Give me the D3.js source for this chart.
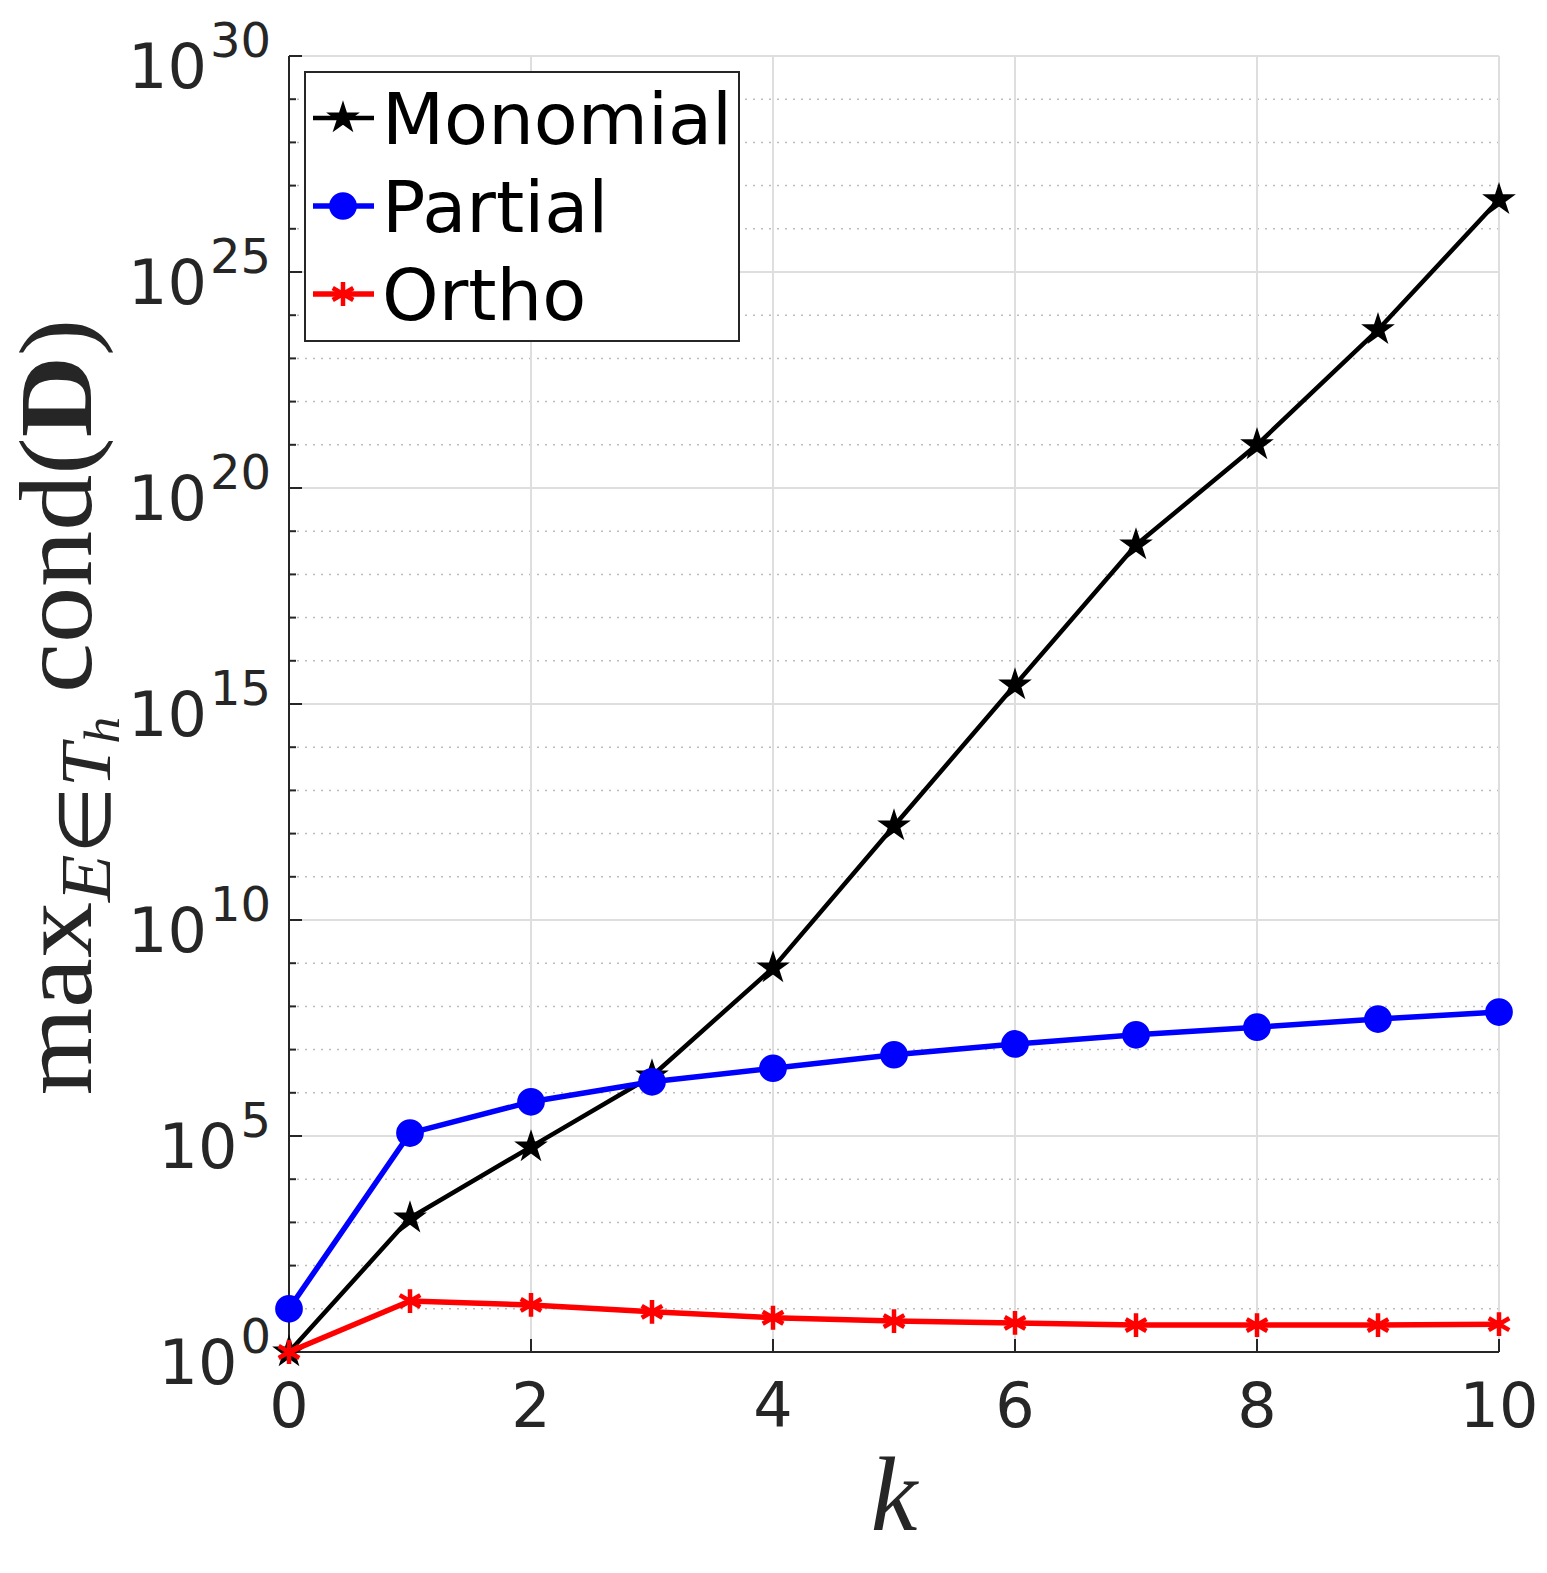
<!DOCTYPE html>
<html lang="en">
<head>
<meta charset="UTF-8">
<title>cond(D) vs k</title>
<script src="https://d3js.org/d3.v7.min.js"></script>
<style>
    body { margin: 0; background: #fff; }
    svg { display: block; }
</style>
</head>
<body>
<svg id="chart" width="1547" height="1573"></svg>
<script>

// data
const ks = [0, 1, 2, 3, 4, 5, 6, 7, 8, 9, 10];
const monomial = [1, 1.26e3, 5.6e4, 2.45e6, 7.8e8, 1.5e12, 2.75e15, 4.8e18, 1.0e21, 4.6e23, 4.7e26];
const partial = [10, 1.17e5, 6.2e5, 1.8e6, 3.7e6, 7.6e6, 1.35e7, 2.2e7, 3.3e7, 5.1e7, 7.4e7];
const ortho = [1, 15.1, 12.3, 8.5, 6.2, 5.2, 4.7, 4.2, 4.2, 4.2, 4.4];

const xTicks = [0, 2, 4, 6, 8, 10];
const yMajorExp = [0, 5, 10, 15, 20, 25, 30];
const yMinorExp = d3.range(0, 31);
const seriesNames = ['Monomial', 'Partial', 'Ortho'];

const svg = d3.select('#chart');
const axisColor = '#262626';

const x = d3.scaleLinear().domain([0, 10]).range([289, 1499]);
const y = d3.scaleLog().domain([1, 1e30]).range([1352, 56]);

// grid
const grid = svg.append('g');
grid.selectAll('line.minor')
    .data(yMinorExp.filter(e => e % 5 !== 0))
    .enter().append('line')
    .attr('x1', x(0)).attr('x2', x(10))
    .attr('y1', e => y(Math.pow(10, e))).attr('y2', e => y(Math.pow(10, e)))
    .style('stroke', '#bcbcbc').style('stroke-width', 1.5)
    .style('stroke-dasharray', '2,6');
grid.selectAll('line.ymaj')
    .data(yMajorExp.slice(1))
    .enter().append('line')
    .attr('x1', x(0)).attr('x2', x(10))
    .attr('y1', e => y(Math.pow(10, e))).attr('y2', e => y(Math.pow(10, e)))
    .style('stroke', '#dedede').style('stroke-width', 2);
grid.selectAll('line.xmaj')
    .data(xTicks.slice(1))
    .enter().append('line')
    .attr('x1', d => x(d)).attr('x2', d => x(d))
    .attr('y1', y(1)).attr('y2', y(1e30))
    .style('stroke', '#dedede').style('stroke-width', 2);

// axes lines + ticks
const ax = svg.append('g').style('stroke', axisColor).style('stroke-width', 2);
ax.append('line').attr('x1', x(0)).attr('x2', x(0)).attr('y1', y(1) + 1).attr('y2', y(1e30));
ax.append('line').attr('x1', x(0) - 1).attr('x2', x(10)).attr('y1', y(1)).attr('y2', y(1));
ax.selectAll('line.xt').data(xTicks).enter().append('line')
    .attr('x1', d => x(d)).attr('x2', d => x(d))
    .attr('y1', y(1)).attr('y2', y(1) - 13);
ax.selectAll('line.yt').data(yMinorExp).enter().append('line')
    .attr('x1', x(0)).attr('x2', e => x(0) + (e % 5 === 0 ? 13 : 7))
    .attr('y1', e => y(Math.pow(10, e))).attr('y2', e => y(Math.pow(10, e)));

// tick labels
svg.selectAll('text.xl').data(xTicks).enter().append('text')
    .attr('x', d => x(d)).attr('y', y(1) + 75)
    .attr('text-anchor', 'middle')
    .style('font-family', 'DejaVu Sans').style('font-size', '62px')
    .style('fill', axisColor)
    .text(d => d);

const yl = svg.selectAll('text.yl').data(yMajorExp).enter().append('text')
    .attr('x', 271).attr('y', e => y(Math.pow(10, e)) + 32)
    .attr('text-anchor', 'end')
    .style('font-family', 'DejaVu Sans').style('fill', axisColor);
yl.append('tspan').style('font-size', '62px').text('10');
yl.append('tspan').attr('dy', -31).attr('dx', 3).style('font-size', '48px').text(e => e);

// series
const line = d3.line().x((d, i) => x(ks[i])).y(d => y(d));
const series = [
    { name: seriesNames[0], values: monomial, color: '#000000', width: 4.5,
      sym: d3.symbol().type(d3.symbolStar).size(210), fill: true, mw: 2.5 },
    { name: seriesNames[1], values: partial, color: '#0000ff', width: 5.5,
      sym: d3.symbol().type(d3.symbolCircle).size(520), fill: true, mw: 2 },
    { name: seriesNames[2], values: ortho, color: '#ff0000', width: 5.5,
      sym: d3.symbol().type(d3.symbolAsterisk).size(400), fill: false, mw: 4.5 }
];

series.forEach(s => {
    const g = svg.append('g');
    g.append('path')
        .attr('d', line(s.values))
        .style('fill', 'none')
        .style('stroke', s.color)
        .style('stroke-width', s.width)
        .style('stroke-linejoin', 'round');
    g.selectAll('path.m').data(s.values).enter().append('path')
        .attr('transform', (d, i) => `translate(${x(ks[i])},${y(d)})`)
        .attr('d', s.sym())
        .style('fill', s.fill ? s.color : 'none')
        .style('stroke', s.color)
        .style('stroke-width', s.mw);
});

// legend
const lg = svg.append('g');
lg.append('rect')
    .attr('x', 305).attr('y', 72).attr('width', 434).attr('height', 269)
    .style('fill', '#fff').style('stroke', axisColor).style('stroke-width', 2);
series.forEach((s, i) => {
    const cy = 118 + i * 88;
    lg.append('line')
        .attr('x1', 313).attr('x2', 374).attr('y1', cy).attr('y2', cy)
        .style('stroke', s.color).style('stroke-width', s.width);
    lg.append('path')
        .attr('transform', `translate(343,${cy})`)
        .attr('d', s.sym())
        .style('fill', s.fill ? s.color : 'none')
        .style('stroke', s.color)
        .style('stroke-width', s.mw);
    lg.append('text')
        .attr('x', 382).attr('y', cy + 26)
        .style('font-family', 'DejaVu Sans').style('font-size', '72px')
        .style('fill', '#000')
        .text(s.name);
});

// axis labels
svg.append('text')
    .attr('x', 894).attr('y', 1530)
    .attr('text-anchor', 'middle')
    .style('font-family', 'Liberation Serif').style('font-style', 'italic')
    .style('font-size', '105px').style('fill', axisColor)
    .text('k');

// rotated y label, stretched a little along its length to match the LaTeX width
const ylab = svg.append('text')
    .attr('transform', 'translate(91,707) rotate(-90) scale(1.08,1)')
    .attr('text-anchor', 'middle')
    .style('font-family', 'Liberation Serif').style('font-size', '104px')
    .style('fill', axisColor);
ylab.append('tspan').text('max');
ylab.append('tspan').attr('dy', 19).style('font-size', '72px').style('font-style', 'italic').text('E');
ylab.append('tspan').style('font-size', '72px').text('\u2208');
ylab.append('tspan').style('font-size', '72px').style('font-style', 'italic').text('T');
ylab.append('tspan').attr('dy', 9).style('font-size', '50px').style('font-style', 'italic').text('h');
ylab.append('tspan').attr('dy', -28).attr('dx', 22).text('cond(');
ylab.append('tspan').style('font-weight', 'bold').text('D');
ylab.append('tspan').text(')');

</script>
</body>
</html>
